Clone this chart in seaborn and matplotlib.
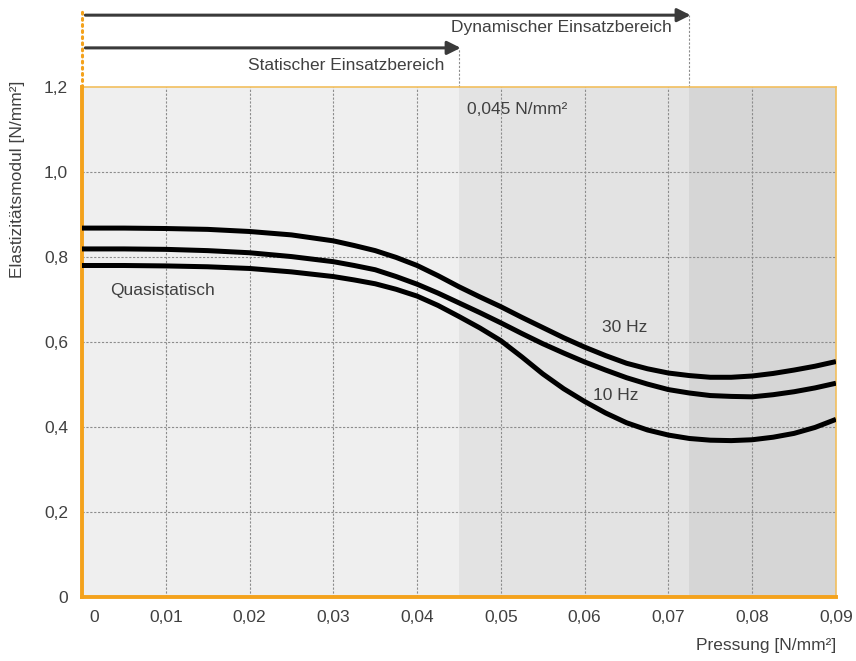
import matplotlib
matplotlib.use("Agg")
import matplotlib.pyplot as plt
import matplotlib.transforms as mtransforms
import seaborn as sns
import pandas as pd

# ---------------------------
# data
# ---------------------------
pressure = [0, 0.005, 0.01, 0.015, 0.02, 0.025, 0.03, 0.0325, 0.035, 0.0375,
            0.04, 0.0425, 0.045, 0.0475, 0.05, 0.0525, 0.055, 0.0575, 0.06, 0.0625,
            0.065, 0.0675, 0.07, 0.0725, 0.075, 0.0775, 0.08, 0.0825, 0.085, 0.0875,
            0.09]
e_30hz = [0.868, 0.868, 0.867, 0.865, 0.860, 0.852, 0.838, 0.827, 0.815, 0.799,
          0.780, 0.756, 0.730, 0.706, 0.683, 0.658, 0.634, 0.610, 0.588, 0.568,
          0.550, 0.537, 0.527, 0.521, 0.517, 0.517, 0.520, 0.526, 0.534, 0.543,
          0.554]
e_10hz = [0.819, 0.819, 0.818, 0.815, 0.810, 0.801, 0.789, 0.780, 0.770, 0.754,
          0.736, 0.715, 0.692, 0.669, 0.645, 0.620, 0.596, 0.574, 0.553, 0.534,
          0.516, 0.501, 0.488, 0.480, 0.474, 0.472, 0.471, 0.476, 0.483, 0.492,
          0.503]
e_quasi = [0.780, 0.780, 0.779, 0.777, 0.773, 0.765, 0.754, 0.746, 0.737, 0.724,
           0.708, 0.686, 0.660, 0.633, 0.603, 0.565, 0.525, 0.490, 0.460, 0.433,
           0.410, 0.393, 0.381, 0.373, 0.369, 0.368, 0.370, 0.376, 0.385, 0.399,
           0.418]

x_ticks = [0, 0.01, 0.02, 0.03, 0.04, 0.05, 0.06, 0.07, 0.08, 0.09]
x_labels = ["0", "0,01", "0,02", "0,03", "0,04", "0,05", "0,06", "0,07", "0,08", "0,09"]
y_ticks = [0, 0.2, 0.4, 0.6, 0.8, 1.0, 1.2]
y_labels = ["0", "0,2", "0,4", "0,6", "0,8", "1,0", "1,2"]

static_limit = 0.045
dynamic_limit = 0.07245

df = pd.DataFrame({
    "Pressung": pressure * 3,
    "E": e_30hz + e_10hz + e_quasi,
    "Serie": ["30 Hz"] * len(pressure) + ["10 Hz"] * len(pressure) + ["Quasistatisch"] * len(pressure),
})

sns.set_style("white")
plt.rcParams["font.family"] = ["Liberation Sans", "DejaVu Sans"]

text_col = "#404040"
orange = "#f4a21c"
grid_col = "#8c8c8c"
fs = 12.5

fig = plt.figure(figsize=(8.56, 6.61), dpi=100)
ax = fig.add_axes([0.0958, 0.0968, 0.8808, 0.7716])

# background zones
ax.axvspan(0, static_limit, color="#efefef", zorder=0, lw=0)
ax.axvspan(static_limit, dynamic_limit, color="#e3e3e3", zorder=0, lw=0)
ax.axvspan(dynamic_limit, 0.09, color="#d6d6d6", zorder=0, lw=0)

# grid
for xv in x_ticks[1:]:
    ax.axvline(xv, color=grid_col, lw=0.8, ls=(0, (2, 1.5)), zorder=1)
for yv in y_ticks[1:-1]:
    ax.axhline(yv, color=grid_col, lw=0.8, ls=(0, (2, 1.5)), zorder=1)

sns.lineplot(data=df, x="Pressung", y="E", units="Serie", estimator=None,
             color="black", lw=3.6, ax=ax, zorder=3,
             solid_joinstyle="round", solid_capstyle="butt")

ax.set_xlim(0, 0.09)
ax.set_ylim(0, 1.2)
ax.set_xticks(x_ticks)
ax.set_xticklabels(x_labels)
ax.set_yticks(y_ticks)
ax.set_yticklabels(y_labels)
ax.tick_params(length=0, labelsize=fs, labelcolor=text_col)
ax.tick_params(axis="y", pad=10)
ax.tick_params(axis="x", pad=9)
ax.set_xlabel("")
ax.set_ylabel("")

# shift the "0" x label a bit to the right
lbl0 = ax.get_xticklabels()[0]
lbl0.set_transform(lbl0.get_transform() + mtransforms.ScaledTranslation(0.12, 0, fig.dpi_scale_trans))

for side in ["left", "bottom"]:
    ax.spines[side].set_color(orange)
    ax.spines[side].set_linewidth(2.8)
for side in ["top", "right"]:
    ax.spines[side].set_color("#f2bf5e")
    ax.spines[side].set_linewidth(1.2)

# curve labels
ax.text(0.0034, 0.722, "Quasistatisch", fontsize=fs, color=text_col, va="center")
ax.text(0.0621, 0.633, "30 Hz", fontsize=fs, color=text_col, va="center")
ax.text(0.061, 0.475, "10 Hz", fontsize=fs, color=text_col, va="center")
ax.text(0.046, 1.146, "0,045 N/mm²", fontsize=fs, color=text_col, va="center")

# ranges above the plot
ax.plot([0, 0], [1.2, 1.385], color=orange, lw=2.2, ls=(0, (0.6, 1.4)),
        dash_capstyle="round", clip_on=False, zorder=5)
ax.plot([static_limit, static_limit], [1.2, 1.292], color=grid_col, lw=0.8,
        ls=(0, (2, 1.5)), clip_on=False)
ax.plot([dynamic_limit, dynamic_limit], [1.2, 1.369], color=grid_col, lw=0.8,
        ls=(0, (2, 1.5)), clip_on=False)

arrow = dict(arrowstyle="-|>,head_length=0.8,head_width=0.4", color="#3a3a3a",
             lw=2.2, shrinkA=0, shrinkB=0)
ax.annotate("", xy=(dynamic_limit + 0.0002, 1.369), xytext=(0.0004, 1.369),
            arrowprops=arrow, annotation_clip=False)
ax.annotate("", xy=(static_limit + 0.0002, 1.292), xytext=(0.0004, 1.292),
            arrowprops=arrow, annotation_clip=False)
ax.text(0.0704, 1.339, "Dynamischer Einsatzbereich", fontsize=fs, color=text_col,
        ha="right", va="center", clip_on=False)
ax.text(0.0432, 1.250, "Statischer Einsatzbereich", fontsize=fs, color=text_col,
        ha="right", va="center", clip_on=False)

fig.text(0.02, 0.728, "Elastizitätsmodul [N/mm²]", rotation=90, fontsize=fs,
         color=text_col, ha="center", va="center")
fig.text(0.9766, 0.024, "Pressung [N/mm²]", fontsize=fs, color=text_col,
         ha="right", va="center")

fig.savefig("out.png", dpi=100)
